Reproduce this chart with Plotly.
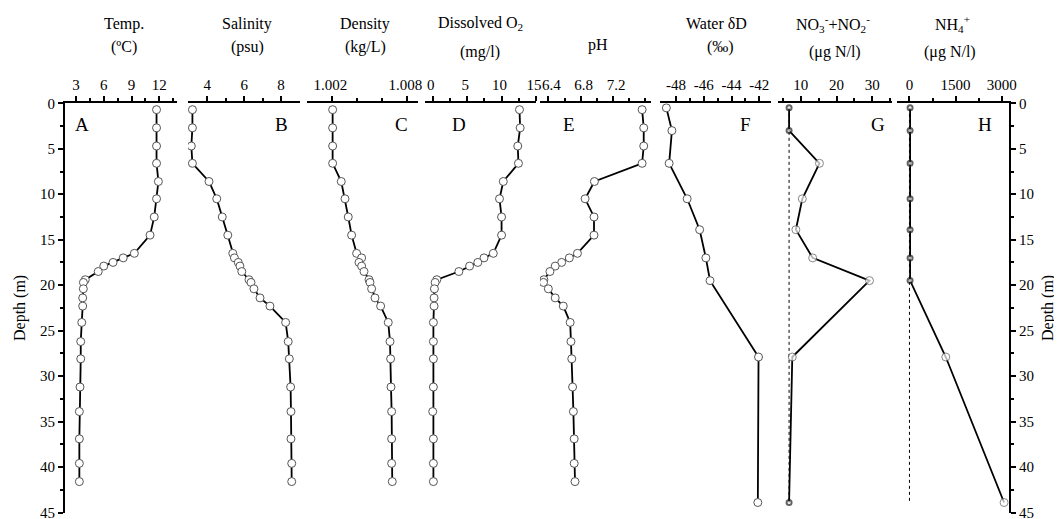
import plotly.graph_objects as go

# ---------------- data ----------------
depth_ctd = [0.7, 2.7, 4.7, 6.6, 8.6, 10.5, 12.5, 14.5, 16.5, 17.0, 17.5, 17.9, 18.5,
             19.4, 19.7, 20.4, 21.4, 22.3, 24.1, 26.2, 28.1, 31.2, 33.9, 36.9, 39.6, 41.6]
temp = [11.7, 11.7, 11.7, 11.7, 11.9, 11.7, 11.45, 11.0, 9.3, 8.1, 7.0, 6.0, 5.4,
        4.0, 3.8, 3.79, 3.72, 3.72, 3.62, 3.51, 3.51, 3.43, 3.36, 3.36, 3.36, 3.36]
salinity = [3.19, 3.19, 3.13, 3.19, 4.09, 4.51, 4.81, 5.11, 5.38, 5.47, 5.68, 5.77, 5.87,
            6.26, 6.37, 6.53, 6.86, 7.40, 8.25, 8.39, 8.45, 8.52, 8.54, 8.54, 8.58, 8.58]
density = [1.00203, 1.00203, 1.00203, 1.00203, 1.00272, 1.00302, 1.00328, 1.00355, 1.00395,
           1.00435, 1.00414, 1.00435, 1.00454, 1.00494, 1.00502, 1.00515, 1.00542, 1.00587,
           1.00648, 1.00662, 1.00667, 1.00670, 1.00675, 1.00675, 1.00675, 1.00680]
dissolved_o2 = [12.6, 12.7, 12.35, 12.45, 10.25, 9.7, 10.0, 10.0, 8.8, 7.45, 6.55, 5.35, 3.8,
                0.6, 0.35, 0.25, 0.2, 0.2, 0.1, 0.1, 0.1, 0.1, 0.0, 0.1, 0.1, 0.1]
ph = [7.56, 7.58, 7.58, 7.56, 6.97, 6.855, 6.965, 6.965, 6.76, 6.66, 6.565, 6.485, 6.42,
      6.345, 6.34, 6.40, 6.485, 6.585, 6.67, 6.68, 6.69, 6.70, 6.71, 6.72, 6.72, 6.73]

depth_chem = [0.5, 3.0, 6.6, 10.5, 13.9, 17.0, 19.5, 27.9, 43.9]
water_dD = [-48.7, -48.3, -48.5, -47.2, -46.3, -45.85, -45.55, -42.05, -42.1]
nox = [6.7, 6.7, 15.2, 10.4, 8.6, 13.3, 29.2, 7.6, 6.7]
nox_below_dl = [True, True, False, False, False, False, False, False, True]
nox_dl = 6.7
nh4 = [20, 20, 20, 20, 20, 20, 20, 1180, 3075]
nh4_below_dl = [True, True, True, True, True, True, True, False, False]
nh4_dl = 0

headers = [("Temp.", "(ºC)"), ("Salinity", "(psu)"), ("Density", "(kg/L)"),
           ("Dissolved O<sub>2</sub>", "(mg/l)"), ("pH", None), ("Water δD", "(‰)"),
           ("NO<sub>3</sub><sup>-</sup>+NO<sub>2</sub><sup>-</sup>", "(μg N/l)"),
           ("NH<sub>4</sub><sup>+</sup>", "(μg N/l)")]
letters = ["A", "B", "C", "D", "E", "F", "G", "H"]

major_ticks = [[3, 6, 9, 12], [4, 6, 8], [1.002, 1.008], [0, 5, 10, 15],
               [6.4, 6.8, 7.2], [-48, -46, -44, -42], [10, 20, 30], [0, 1500, 3000]]
major_text = [["3", "6", "9", "12"], ["4", "6", "8"], ["1.002", "1.008"], ["0", "5", "10", "15"],
              ["6.4", "6.8", "7.2"], ["-48", "-46", "-44", "-42"], ["10", "20", "30"],
              ["0", "1500", "3000"]]
minor_ticks = [[4.5, 7.5, 10.5, 13.5], [5, 7], [1.004, 1.006], [2.5, 7.5, 12.5],
               [6.6, 7.0, 7.4, 7.6], [-47, -45, -43], [5, 15, 25, 35], [750, 2250]]
depth_ticks = [0, 5, 10, 15, 20, 25, 30, 35, 40, 45]
depth_minor = [2.5, 7.5, 12.5, 17.5, 22.5, 27.5, 32.5, 37.5, 42.5]

# ---------------- layout geometry ----------------
# the page places the figure 8 px in from the top-left corner
OFF = 8
W, H = 1062, 519
def fx(px): return (px - OFF) / W
def fy(py): return 1 - (py - OFF) / H

panel_px = [(65, 177), (188, 300), (307, 418), (425, 536), (540, 651),
            (660, 771), (778, 892), (897, 1009)]
ranges = [[1.81, 13.91], [2.95, 9.03], [0.99998, 1.00886], [-1.12, 15.0],
          [6.297, 7.67], [-49.16, -41.15], [3.6, 35.5], [-405, 3235]]
label_shift = [0, 0, -2, -2, 3, 0, 0, 0]
header_x = [124, 247, 365, 480, 598, 716, 833, 952]
unit_x = [124, 247, 365, 480, None, 720, 835, 950]
letter_x = [82, 282, 401, 459, 569, 745, 878, 985]

FONT = "Liberation Serif"
ydom = [fy(512.5), fy(103.3)]

fig = go.Figure()

line_style = dict(color="black", width=1.8)
def marker_style(n):
    return dict(symbol="circle", size=8, color="white", line=dict(color="#555", width=1))

ctd_series = [temp, salinity, density, dissolved_o2, ph]
for i, vals in enumerate(ctd_series):
    ax = "x" if i == 0 else f"x{i+1}"
    fig.add_trace(go.Scatter(x=vals, y=depth_ctd, mode="lines+markers", xaxis=ax, yaxis="y",
                             line=line_style, marker=marker_style(len(vals)), showlegend=False))

# F: water dD
fig.add_trace(go.Scatter(x=water_dD, y=depth_chem, mode="lines+markers", xaxis="x6", yaxis="y",
                         line=line_style, marker=marker_style(len(water_dD)), showlegend=False))

# G and H with detection-limit dotted lines
for axn, vals, flags, dl in [(7, nox, nox_below_dl, nox_dl), (8, nh4, nh4_below_dl, nh4_dl)]:
    ax = f"x{axn}"
    fig.add_trace(go.Scatter(x=[dl, dl], y=[depth_chem[0], depth_chem[-1]], mode="lines",
                             xaxis=ax, yaxis="y", line=dict(color="black", width=1, dash="dot"),
                             showlegend=False))
    fig.add_trace(go.Scatter(
        x=vals, y=depth_chem, mode="lines+markers", xaxis=ax, yaxis="y", line=line_style,
        marker=dict(symbol="circle", color="white",
                    size=[5 if f else 8 for f in flags],
                    line=dict(color=["#222" if f else "#555" for f in flags],
                              width=[2 if f else 1 for f in flags])),
        showlegend=False))

# invisible trace to carry the right-hand depth axis
fig.add_trace(go.Scatter(x=nh4, y=depth_chem, mode="lines", xaxis="x8", yaxis="y2",
                         line=dict(width=0, color="rgba(0,0,0,0)"), hoverinfo="skip",
                         showlegend=False))

layout = dict(
    width=W, height=H, margin=dict(l=0, r=0, t=0, b=0, autoexpand=False),
    paper_bgcolor="white", plot_bgcolor="white", showlegend=False,
    font=dict(family=FONT, size=15, color="black"),
)

for i in range(8):
    key = "xaxis" if i == 0 else f"xaxis{i+1}"
    a, b = panel_px[i]
    layout[key] = dict(
        domain=[fx(a), fx(b)], range=ranges[i], side="top", anchor="y", automargin=False,
        showline=True, linecolor="black", linewidth=2, showgrid=False, zeroline=False,
        ticks="outside", ticklen=5, tickwidth=1.5, tickcolor="black",
        tickmode="array", tickvals=major_ticks[i], ticktext=major_text[i],
        ticklabeloverflow="allow", ticklabelshift=label_shift[i],
        tickfont=dict(family=FONT, size=15, color="black"),
        minor=dict(tickmode="array", tickvals=minor_ticks[i], ticks="outside", ticklen=3,
                   tickwidth=1.5, tickcolor="black", showgrid=False),
        fixedrange=True,
    )

yax_common = dict(
    range=[45, 0], domain=ydom, showline=True, linecolor="black", linewidth=2,
    showgrid=False, zeroline=False, ticks="outside", ticklen=5, tickwidth=1.5,
    tickcolor="black", tickmode="array", tickvals=depth_ticks, automargin=False,
    ticklabeloverflow="allow",
    tickfont=dict(family=FONT, size=15, color="black"),
    minor=dict(tickmode="array", tickvals=depth_minor, ticks="outside", ticklen=3,
               tickwidth=1.5, tickcolor="black", showgrid=False),
    fixedrange=True,
)
layout["yaxis"] = dict(yax_common, anchor="x", side="left")
layout["yaxis2"] = dict(yax_common, anchor="x8", side="right", overlaying="y")

annotations = []
for i in range(8):
    t1, t2 = headers[i]
    if t2 is None:
        annotations.append(dict(x=fx(header_x[i]), y=fy(45), text=t1, showarrow=False,
                                xref="paper", yref="paper", xanchor="center", yanchor="middle",
                                font=dict(family=FONT, size=16)))
    else:
        annotations.append(dict(x=fx(header_x[i]), y=fy(24), text=t1, showarrow=False,
                                xref="paper", yref="paper", xanchor="center", yanchor="middle",
                                font=dict(family=FONT, size=16)))
        uy = 52 if i in (3, 6, 7) else 47
        annotations.append(dict(x=fx(unit_x[i]), y=fy(uy), text=t2, showarrow=False,
                                xref="paper", yref="paper", xanchor="center", yanchor="middle",
                                font=dict(family=FONT, size=16)))
    annotations.append(dict(x=fx(letter_x[i]), y=fy(124), text=letters[i], showarrow=False,
                            xref="paper", yref="paper", xanchor="center", yanchor="middle",
                            font=dict(family=FONT, size=19)))

for xpx in (20, 1048):
    annotations.append(dict(x=fx(xpx), y=fy(308), text="Depth (m)", showarrow=False,
                            xref="paper", yref="paper", xanchor="center", yanchor="middle",
                            textangle=-90, font=dict(family=FONT, size=16)))
layout["annotations"] = annotations

fig.update_layout(**layout)
fig.write_html("out.html")
